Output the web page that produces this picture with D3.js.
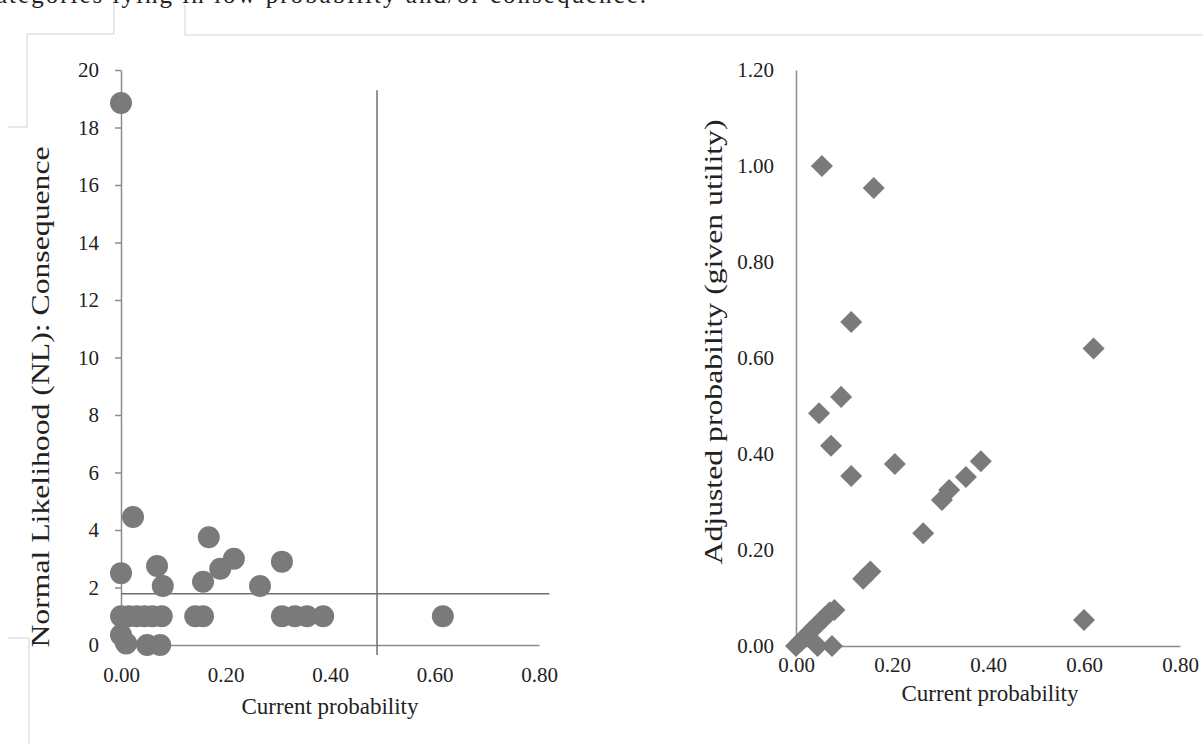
<!DOCTYPE html>
<html>
<head>
<meta charset="utf-8">
<script src="https://cdn.jsdelivr.net/npm/d3@7"></script>
<style>
  body { margin: 0; background: #fff; }
  text { font-family: "Liberation Serif", "Times New Roman", serif; fill: #222; }
</style>
</head>
<body>
<script>
// Left panel: current probability vs normal likelihood (circles)
const leftX = [0.000, 0.000, 0.023, 0.069, 0.080, 0.157, 0.168, 0.190, 0.216, 0.266, 0.308,
               0.000, 0.015, 0.030, 0.045, 0.060, 0.078, 0.142, 0.157, 0.308, 0.333, 0.356, 0.387, 0.616,
               0.000, 0.010, 0.050, 0.075];
const leftY = [18.85, 2.50, 4.45, 2.75, 2.05, 2.20, 3.75, 2.65, 3.00, 2.05, 2.90,
               1.00, 1.00, 1.00, 1.00, 1.00, 1.00, 1.00, 1.00, 1.00, 1.00, 1.00, 1.00, 1.00,
               0.35, 0.05, 0.00, 0.00];
const leftCutX = 0.49;   // vertical threshold line
const leftCutY = 1.78;   // horizontal threshold line

// Right panel: current probability vs adjusted probability (diamonds)
const rightX = [0.054, 0.162, 0.115, 0.620, 0.048, 0.094, 0.073, 0.115, 0.206, 0.265, 0.304, 0.319,
                0.354, 0.385, 0.140, 0.155, 0.600,
                0.000, 0.010, 0.020, 0.030, 0.040, 0.050, 0.060, 0.070, 0.080, 0.045, 0.075];
const rightY = [1.000, 0.954, 0.675, 0.620, 0.485, 0.519, 0.417, 0.354, 0.379, 0.235, 0.304, 0.325,
                0.352, 0.385, 0.140, 0.155, 0.054,
                0.000, 0.010, 0.020, 0.030, 0.040, 0.050, 0.060, 0.070, 0.075, 0.000, 0.000];

const xTicks = [0, 0.2, 0.4, 0.6, 0.8];
const leftYTicks = [0, 2, 4, 6, 8, 10, 12, 14, 16, 18, 20];
const rightYTicks = [0, 0.2, 0.4, 0.6, 0.8, 1.0, 1.2];

const width = 1203, height = 744;
const markColor = "#7a7a7a";
const axisColor = "#8c8c8c";

const svg = d3.select("body").append("svg")
  .attr("width", width)
  .attr("height", height);

// faint frame lines left over from the page
const frame = svg.append("g")
  .attr("fill", "none")
  .attr("stroke", "#d2d2d2")
  .attr("stroke-width", 1);
frame.append("path").attr("d", "M114,0V34H27V127H8");
frame.append("path").attr("d", "M185,5V35H1203");
frame.append("path").attr("d", "M8,638H29V744");

// clipped caption line at the very top
svg.append("text")
  .attr("x", -4)
  .attr("y", 3)
  .attr("font-size", 25)
  .attr("textLength", 650)
  .text("ategories lying in low probability and/or consequence.");

// Scales
const xL = d3.scaleLinear().domain([0, 0.8]).range([121, 539]);
const yL = d3.scaleLinear().domain([0, 20]).range([645, 70]);
const xR = d3.scaleLinear().domain([0, 0.8]).range([796, 1180]);
const yR = d3.scaleLinear().domain([0, 1.2]).range([646, 70]);

function styleAxis(g) {
  g.select(".domain").attr("stroke", axisColor).attr("stroke-width", 1.5);
  g.selectAll(".tick line").attr("stroke", axisColor).attr("stroke-width", 1.5);
  g.selectAll("text")
    .attr("font-family", "Liberation Serif, serif")
    .attr("font-size", 21)
    .attr("fill", "#222");
}

// ---- Left panel ----
const left = svg.append("g");

left.append("g")
  .attr("transform", `translate(0,${yL(0)})`)
  .call(d3.axisBottom(xL).tickValues(xTicks).tickFormat(d3.format(".2f")).tickSize(0).tickPadding(22))
  .call(styleAxis);

left.append("g")
  .attr("transform", `translate(${xL(0)},0)`)
  .call(d3.axisLeft(yL).tickValues(leftYTicks).tickSize(6).tickSizeOuter(0).tickPadding(16))
  .call(styleAxis);

left.append("line")
  .attr("x1", xL(leftCutX)).attr("x2", xL(leftCutX))
  .attr("y1", yL(19.3)).attr("y2", yL(-0.35))
  .attr("stroke", "#6e6e6e").attr("stroke-width", 1.5);
left.append("line")
  .attr("x1", xL(0)).attr("x2", xL(0.82))
  .attr("y1", yL(leftCutY)).attr("y2", yL(leftCutY))
  .attr("stroke", "#6e6e6e").attr("stroke-width", 1.5);

left.append("g").selectAll("circle")
  .data(d3.range(leftX.length))
  .join("circle")
  .attr("cx", i => xL(leftX[i]))
  .attr("cy", i => yL(leftY[i]))
  .attr("r", 11)
  .attr("fill", markColor);

left.append("text")
  .attr("x", 330).attr("y", 714)
  .attr("text-anchor", "middle")
  .attr("font-size", 23)
  .text("Current probability");

left.append("text")
  .attr("transform", "translate(49,397) rotate(-90) scale(1.22,1)")
  .attr("text-anchor", "middle")
  .attr("font-size", 26)
  .text("Normal Likelihood (NL): Consequence");

// ---- Right panel ----
const right = svg.append("g");

right.append("g")
  .attr("transform", `translate(0,${yR(0)})`)
  .call(d3.axisBottom(xR).tickValues(xTicks).tickFormat(d3.format(".2f")).tickSize(0).tickPadding(11))
  .call(styleAxis);

right.append("g")
  .attr("transform", `translate(${xR(0)},0)`)
  .call(d3.axisLeft(yR).tickValues(rightYTicks).tickFormat(d3.format(".2f")).tickSize(0).tickPadding(22))
  .call(styleAxis);

const diamond = d3.symbol().type(d3.symbolSquare).size(243);
right.append("g").selectAll("path")
  .data(d3.range(rightX.length))
  .join("path")
  .attr("d", diamond)
  .attr("transform", i => `translate(${xR(rightX[i])},${yR(rightY[i])}) rotate(45)`)
  .attr("fill", markColor);

right.append("text")
  .attr("x", 990).attr("y", 701)
  .attr("text-anchor", "middle")
  .attr("font-size", 23)
  .text("Current probability");

right.append("text")
  .attr("transform", "translate(722,342) rotate(-90) scale(1.22,1)")
  .attr("text-anchor", "middle")
  .attr("font-size", 26)
  .text("Adjusted probability (given utility)");
</script>
</body>
</html>
